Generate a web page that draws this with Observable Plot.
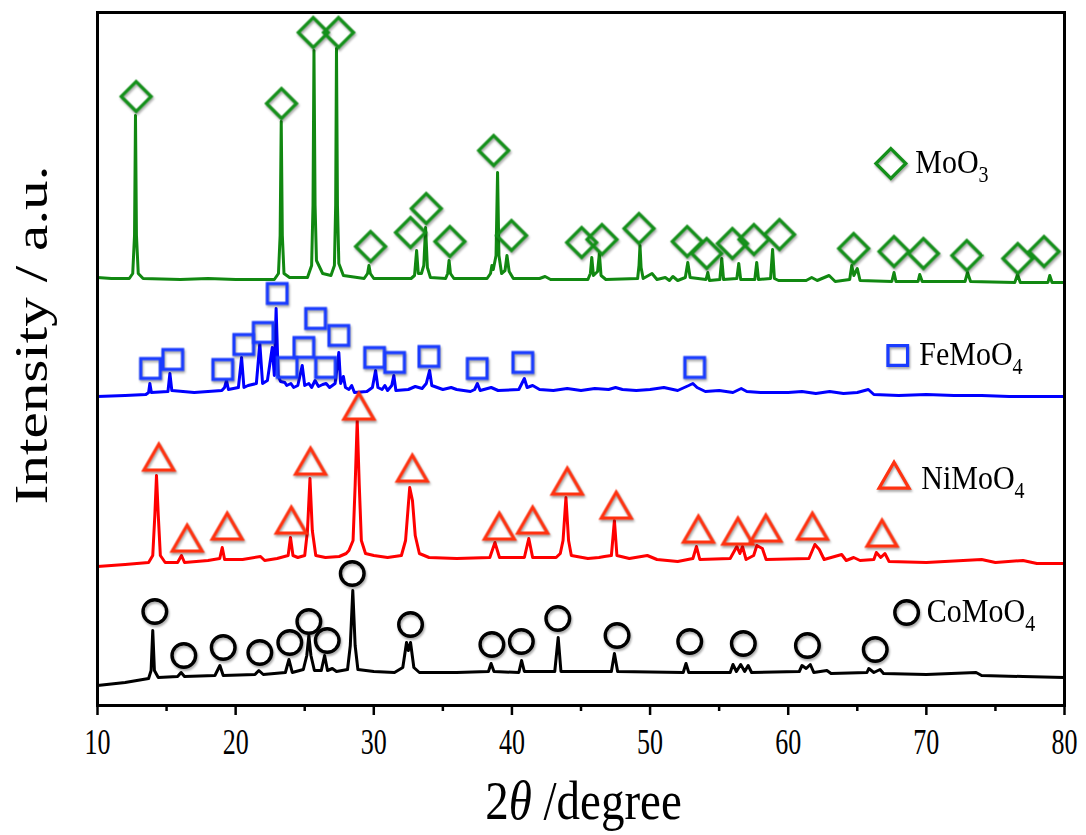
<!DOCTYPE html>
<html>
<head>
<meta charset="utf-8">
<script src="https://cdn.jsdelivr.net/npm/d3@7"></script>
<script src="https://cdn.jsdelivr.net/npm/@observablehq/plot@0.6"></script>
<style>
  html, body { margin: 0; padding: 0; background: #fff; }
  #chart svg g[aria-label="dot"] { filter: drop-shadow(1.5px 2px 1.2px rgba(0,0,0,0.35)); }
</style>
</head>
<body>
<div id="chart"></div>
<script>
// ---- Data: [2theta (deg), intensity (a.u., stacked as plotted)] ----
const moo3 = [[10,428],[11,427],[12.3,427],[12.55,432],[12.68,470],[12.75,590],[12.82,470],[12.95,432],[13.3,427],[16,426],[18,427],[20,426],
[22.8,426],[23.1,432],[23.22,470],[23.3,584],[23.38,470],[23.5,432],[23.9,428],[25.2,428],[25.5,440],[25.6,500],[25.67,655],[25.75,500],[25.85,445],[26.3,432],
[26.9,430],[27.15,440],[27.24,500],[27.3,657],[27.37,500],[27.47,442],[27.8,430],[29.3,427],[29.55,432],[29.65,440],[29.75,432],[30.0,427],[32.7,427],
[32.95,430],[33.1,455],[33.22,432],[33.45,432],[33.62,440],[33.75,478],[33.88,438],[34.1,428],[35.2,427],[35.35,432],[35.45,445],[35.55,432],[35.8,427],
[38.2,427],[38.45,432],[38.55,440],[38.65,436],[38.85,450],[38.96,533],[39.06,450],[39.25,432],[39.5,435],[39.64,450],[39.8,434],[40.1,427],
[42.0,427],[42.4,429],[42.8,426],[45.5,426],[45.68,432],[45.78,448],[45.9,430],[46.2,434],[46.33,452],[46.45,430],[46.8,426],
[49.1,427],[49.2,440],[49.27,460],[49.35,438],[49.5,427],[50.14,432],[50.5,426],[51.1,428],[51.4,425],[51.65,429],[52.0,425],
[52.55,428],[52.73,443],[52.9,428],[54.05,426],[54.18,433],[54.3,425],[55.05,426],[55.19,447],[55.32,426],[56.28,427],[56.42,442],[56.56,426],
[57.58,426],[57.72,443],[57.85,426],[58.72,427],[58.87,456],[59.0,427],[59.3,425],[61.3,425],[61.7,428],[62.1,425],[62.96,430],[63.4,424],
[64.45,426],[64.6,440],[64.75,430],[65.0,437],[65.2,425],[67.5,424],[67.66,433],[67.8,424],[69.4,424],[69.52,431],[69.7,424],
[72.8,424],[72.98,433],[73.2,424],[76.4,423],[76.6,431],[76.8,423],[78.8,423],[78.93,430],[79.1,423],[80,423]];

const femoo4 = [[10,309],[12,310],[13.5,311],[13.7,313],[13.79,322],[13.9,313],[15.1,314],[15.24,332],[15.38,315],[17,313],[19.0,315],[19.2,318],[19.34,325],[19.48,316],
[20.2,318],[20.43,348],[20.6,318],[20.9,320],[21.5,322],[21.75,362],[21.95,322],[22.3,325],[22.65,358],[22.8,330],[22.93,397],[23.08,330],[23.25,324],[23.56,323],
[23.7,320],[24.0,322],[24.2,318],[24.5,320],[24.82,340],[25.0,320],[25.3,322],[25.5,318],[25.75,325],[26.0,319],[26.3,321],[26.55,322],[26.8,318],[27.2,322],
[27.47,353],[27.6,322],[27.8,329],[27.95,318],[28.2,316],[28.4,320],[28.6,313],[29.5,314],[29.9,318],[30.13,335],[30.3,318],[30.6,316],[30.8,320],[31.0,315],
[31.3,320],[31.45,330],[31.6,315],[32.5,316],[33.0,319],[33.5,317],[33.8,322],[34.04,335],[34.2,320],[34.6,318],[35.0,316],[35.6,318],[36.0,316],[37.0,314],
[37.3,316],[37.5,322],[37.7,315],[38.5,318],[39.0,315],[40.5,316],[40.9,327],[41.1,318],[41.5,320],[42.0,316],[43.0,315],[44.0,317],[45.0,315],[46.0,317],
[47.0,316],[47.5,318],[48.0,316],[49.0,315],[50.0,316],[51.0,318],[52.0,315],[52.8,320],[53.1,322],[53.4,318],[54.0,314],[55.0,315],[56.0,313],[56.6,317],
[57.0,314],[58.0,313],[59.0,313],[60.0,313],[61.0,314],[62.0,312],[63.0,314],[64.0,312],[65.0,313],[65.8,316],[66.2,311],[68.0,310],[70.0,311],[72.0,310],
[74.0,310],[76.0,309],[78.0,309],[80,309]];

const nimoo4 = [[10,139],[12,141],[13.7,143],[14.0,150],[14.15,190],[14.27,230],[14.4,190],[14.55,150],[14.9,143],[15.8,143],[16.08,150],[16.3,143],[18.0,145],
[18.85,147],[19.03,158],[19.2,146],[20.5,146],[21.8,149],[22.1,145],[23.0,147],[23.8,150],[23.97,168],[24.15,150],[24.5,148],[25.0,150],[25.2,175],[25.38,227],
[25.55,175],[25.8,150],[26.5,148],[27.5,149],[28.0,152],[28.2,155],[28.5,165],[28.65,220],[28.8,285],[28.95,220],[29.1,165],[29.4,152],[30.0,150],[31.0,148],
[32.0,150],[32.3,165],[32.6,218],[32.8,205],[33.0,170],[33.3,152],[34.0,148],[36.0,147],[38.4,148],[38.77,163],[39.1,148],[40.9,148],[41.22,167],[41.5,148],
[43.2,148],[43.5,152],[43.7,165],[43.91,208],[44.1,165],[44.3,150],[45.5,147],[46.3,148],[46.7,149],[47.2,150],[47.42,185],[47.6,150],[48.5,147],[49.8,150],
[50.5,146],[52.0,144],[53.1,147],[53.36,159],[53.6,146],[55.8,147],[56.28,159],[56.5,152],[56.69,159],[56.95,146],[57.5,150],[57.73,160],[58.13,157],[58.4,146],
[61.5,147],[61.93,161],[62.25,156],[62.6,146],[63.87,151],[64.2,145],[64.74,148],[65.2,145],[66.2,146],[66.38,153],[66.7,148],[67.0,152],[67.3,144],[70.0,143],
[74.0,146],[75.0,143],[77.0,145],[78.0,142],[80,142]];

const comoo4 = [[10,20],[12,23],[13.7,27],[13.88,35],[14.0,75],[14.12,35],[14.4,28],[15.8,29],[16.05,33],[16.3,29],[18.5,30],[18.86,40],[19.1,30],[21.4,31],
[21.68,35],[22.0,31],[23.6,33],[23.86,46],[24.1,33],[24.9,36],[25.15,50],[25.3,70],[25.45,50],[25.7,35],[26.2,35],[26.44,50],[26.65,35],[27.0,37],[27.3,34],
[28.1,36],[28.3,60],[28.48,115],[28.65,60],[28.85,36],[30.0,34],[31.5,33],[32.1,38],[32.37,63],[32.5,55],[32.66,63],[32.9,38],[33.3,33],[36.0,33],[38.3,34],
[38.49,42],[38.7,34],[40.5,33],[40.7,45],[40.9,34],[43.1,34],[43.35,68],[43.55,34],[47.2,34],[47.42,52],[47.65,34],[52.4,33],[52.6,42],[52.8,33],[55.8,33],
[56.0,41],[56.25,34],[56.56,41],[56.85,34],[57.1,40],[57.35,33],[60.8,34],[61.0,40],[61.3,37],[61.6,41],[61.85,33],[62.8,35],[63.1,32],[65.7,33],[65.83,37],
[66.2,33],[66.65,36],[66.9,32],[70.0,31],[73.6,33],[74.0,30],[77.0,29],[80,28]];

// ---- Phase markers: [2theta, intensity] ----
const moo3Marks = [[12.80,609],[23.32,602],[25.62,673],[27.45,673],[29.77,459],[32.66,473],[33.80,497],[35.51,464],[38.68,555],[39.97,470],[45.05,463],
[46.52,466],[49.20,477],[52.69,464],[54.10,452],[55.96,462],[57.52,466],[59.37,471],[64.74,457],[67.66,454],[69.79,452],[72.93,450],[76.62,447],[78.52,454]];
const femoo4Marks = [[13.84,337],[15.45,346],[19.07,336],[20.59,361],[22.0,373],[23.01,412],[23.73,338],[24.94,358],[25.79,387],[26.51,338],[27.47,370],
[30.06,348],[31.51,343],[33.99,349],[37.49,337],[40.79,343],[53.23,338]];
const nimoo4Marks = [[14.44,244],[16.49,163],[19.39,175],[24.03,181],[25.42,240],[28.92,295],[32.79,233],[39.09,175],[41.50,181],[44.01,220],[47.55,196],
[53.50,172],[56.36,170],[58.38,173],[61.75,175],[66.79,168]];
const comoo4Marks = [[14.15,94],[16.25,50],[19.10,58],[21.75,53],[23.92,63],[25.30,84],[26.63,65],[28.44,132],[32.66,81],[38.55,61],[40.68,64],[43.32,87],
[47.61,70],[52.87,64],[56.75,62],[61.39,60],[66.30,56]];

// ---- Legend ----
const legendNames = ["MoO", "FeMoO", "NiMoO", "CoMoO"];
const legendSubs = ["3", "4", "4", "4"];
const legendMarkX = [67.43, 67.93, 67.66, 68.57];
const legendMarkY = [542, 350, 226, 93];
const legendTextX = [69.23, 69.52, 69.67, 70.07];

const majorTicks = [10, 20, 30, 40, 50, 60, 70, 80];
const minorTicks = [15, 25, 35, 45, 55, 65, 75];

const colors = {moo3: "#118811", femoo4: "#0000ff", nimoo4: "#ff0000", comoo4: "#000000"};
const markColors = {moo3: "#14901a", femoo4: "#1a3cff", nimoo4: "#ff3210", comoo4: "#000000"};

const X = d => d[0], Y = d => d[1];
const FONT = "'Liberation Serif', 'Times New Roman', serif";

const chart = Plot.plot({
  width: 1086,
  height: 835,
  marginTop: 12,
  marginBottom: 130,
  marginLeft: 97,
  marginRight: 22,
  x: {domain: [10, 80]},
  y: {domain: [0, 693], axis: null},
  style: {fontFamily: FONT, background: "white", color: "black"},
  marks: [
    Plot.line(moo3, {x: X, y: Y, stroke: colors.moo3, strokeWidth: 3}),
    Plot.line(femoo4, {x: X, y: Y, stroke: colors.femoo4, strokeWidth: 3}),
    Plot.line(nimoo4, {x: X, y: Y, stroke: colors.nimoo4, strokeWidth: 3}),
    Plot.line(comoo4, {x: X, y: Y, stroke: colors.comoo4, strokeWidth: 3}),
    Plot.dot(moo3Marks, {x: X, y: Y, symbol: "diamond2", r: 13.5, stroke: markColors.moo3, strokeWidth: 3.2, fill: "none"}),
    Plot.dot(femoo4Marks, {x: X, y: Y, symbol: "square2", r: 12.5, stroke: markColors.femoo4, strokeWidth: 3.2, fill: "none"}),
    Plot.dot(nimoo4Marks, {x: X, y: Y, symbol: "triangle2", r: 14.3, stroke: markColors.nimoo4, strokeWidth: 3.2, fill: "none"}),
    Plot.dot(comoo4Marks, {x: X, y: Y, symbol: "circle", r: 11.8, stroke: markColors.comoo4, strokeWidth: 3.4, fill: "none"}),
    Plot.dot([0], {x: () => legendMarkX[0], y: () => legendMarkY[0], symbol: "diamond2", r: 13.5, stroke: markColors.moo3, strokeWidth: 3.2}),
    Plot.dot([0], {x: () => legendMarkX[1], y: () => legendMarkY[1], symbol: "square2", r: 12.5, stroke: markColors.femoo4, strokeWidth: 3.2}),
    Plot.dot([0], {x: () => legendMarkX[2], y: () => legendMarkY[2], symbol: "triangle2", r: 14.3, stroke: markColors.nimoo4, strokeWidth: 3.2}),
    Plot.dot([0], {x: () => legendMarkX[3], y: () => legendMarkY[3], symbol: "circle", r: 11.8, stroke: markColors.comoo4, strokeWidth: 3.4}),
    Plot.axisX({ticks: minorTicks, tickSize: 6, tickFormat: () => "", strokeWidth: 2.5, label: null}),
    Plot.axisX({ticks: majorTicks, tickSize: 10, tickPadding: 13, fontSize: 26, strokeWidth: 2.5, label: null, tickFormat: d => String(d)}),
    Plot.frame({stroke: "black", strokeWidth: 3})
  ]
});

document.getElementById("chart").appendChild(chart);

const svg = d3.select(chart);
const sx = chart.scale("x"), sy = chart.scale("y");

// Vertically stretch tick labels (the original figure is stretched vertically)
svg.selectAll('g[aria-label="x-axis tick label"] text').each(function () {
  const tr = this.getAttribute("transform") || "";
  this.setAttribute("transform", tr + " scale(1,1.4)");
});

// Legend labels with subscripts
legendNames.forEach((name, i) => {
  const t = svg.append("text")
    .attr("transform", `translate(${sx.apply(legendTextX[i])}, ${sy.apply(legendMarkY[i]) + 10}) scale(1,1.12)`)
    .attr("text-anchor", "start")
    .attr("font-family", FONT)
    .attr("font-size", 30)
    .attr("fill", "black");
  t.append("tspan").text(name);
  t.append("tspan").attr("dy", 8).attr("font-size", 20).text(legendSubs[i]);
});

// Axis titles
const xt = svg.append("text")
  .attr("transform", `translate(${(sx.apply(10) + sx.apply(80)) / 2 + 3}, 819) scale(1,1.15)`)
  .attr("text-anchor", "middle")
  .attr("font-family", FONT)
  .attr("font-size", 47)
  .attr("fill", "black");
xt.append("tspan").text("2");
xt.append("tspan").attr("font-style", "italic").text("θ");
xt.append("tspan").text(" /degree");

svg.append("text")
  .attr("transform", "translate(47, 335) scale(1,1.26) rotate(-90)")
  .attr("text-anchor", "middle")
  .attr("font-family", FONT)
  .attr("font-size", 47)
  .attr("fill", "black")
  .text("Intensity / a.u.");
</script>
</body>
</html>
